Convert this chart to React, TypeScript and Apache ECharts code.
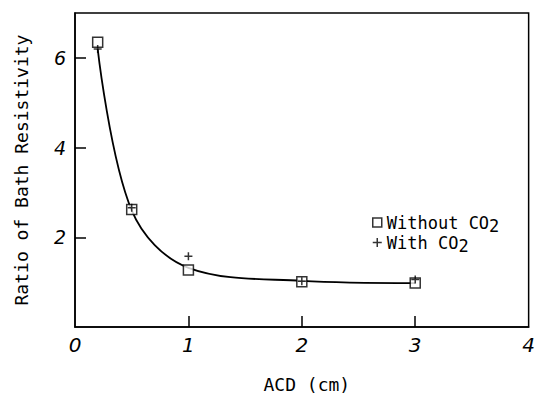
import React, { useEffect, useRef } from "react";
import * as echarts from "echarts";

const acd = [0.2, 0.5, 1.0, 2.0, 3.0];
const withoutCO2 = [6.35, 2.62, 1.27, 1.01, 0.98];
const withCO2 = [6.2, 2.66, 1.58, 1.02, 1.06];
const fitCurve = [6.2, 2.6, 1.32, 1.03, 0.98];
const xTicks = [0, 1, 2, 3, 4];
const yTicks = [2, 4, 6];

const FONT = "DejaVu Sans";
const MONO = "DejaVu Sans Mono";
const plusPath = "path://M5,0L5,10M0,5L10,5";

export default function App() {
  const ref = useRef<HTMLDivElement>(null);
  useEffect(() => {
    if (!ref.current) return;
    const chart = echarts.init(ref.current, undefined, { renderer: "svg" });
    const pairs = (ys: number[]) => acd.map((x, i) => [x, ys[i]]);
    chart.setOption({
      animation: false,
      backgroundColor: "#fff",
      grid: {
        left: 75,
        right: 6,
        top: 13,
        bottom: 68,
        show: true,
        borderColor: "#000",
        borderWidth: 1.5,
        backgroundColor: "transparent",
      },
      xAxis: {
        type: "value",
        min: 0,
        max: 4,
        interval: 1,
        name: "ACD (cm)",
        nameLocation: "middle",
        nameGap: 48,
        nameTextStyle: { fontFamily: MONO, fontSize: 18, color: "#000", padding: [0, 0, 0, 10] },
        axisLine: { lineStyle: { color: "#000", width: 1.5 } },
        axisTick: { inside: true, length: 11, customValues: [1, 2, 3], lineStyle: { color: "#000", width: 1.5 } },
        axisLabel: {
          customValues: xTicks,
          fontFamily: FONT,
          fontStyle: "italic",
          fontSize: 20,
          color: "#000",
          margin: 8,
        },
        splitLine: { show: false },
      },
      yAxis: {
        type: "value",
        min: 0,
        max: 7,
        name: "Ratio of Bath Resistivity",
        nameLocation: "middle",
        nameGap: 45,
        nameTextStyle: { fontFamily: MONO, fontSize: 18, color: "#000" },
        axisLine: { lineStyle: { color: "#000", width: 1.5 } },
        axisTick: { inside: true, length: 11, customValues: yTicks, lineStyle: { color: "#000", width: 1.5 } },
        axisLabel: {
          customValues: yTicks,
          fontFamily: FONT,
          fontStyle: "italic",
          fontSize: 19,
          color: "#000",
          margin: 9,
        },
        splitLine: { show: false },
      },
      legend: {
        orient: "vertical",
        left: 367,
        top: 209,
        itemWidth: 9,
        itemHeight: 9,
        itemGap: 0,
        textStyle: {
          fontFamily: MONO,
          fontSize: 16,
          color: "#000",
          rich: {
            t: { fontFamily: MONO, fontSize: 17, color: "#000" },
            s: { fontFamily: MONO, fontSize: 17, color: "#000", padding: [6, 0, 0, 0] },
          },
        },
        formatter: (name: string) =>
          name === "Without CO2" ? "{t|Without CO}{s|2}" : "{t|With CO}{s|2}",
        data: [
          { name: "Without CO2", icon: "rect", itemStyle: { color: "#fff", borderColor: "#000", borderWidth: 1.5 } },
          { name: "With CO2", icon: plusPath, itemStyle: { color: "transparent", borderColor: "#000", borderWidth: 1.5 } },
        ],
      },
      series: [
        {
          name: "fit",
          type: "line",
          data: pairs(fitCurve),
          smooth: 0.35,
          showSymbol: false,
          symbol: "none",
          lineStyle: { color: "#000", width: 1.8 },
          z: 1,
        },
        {
          name: "Without CO2",
          type: "scatter",
          data: pairs(withoutCO2),
          symbol: "rect",
          symbolSize: 10,
          itemStyle: { color: "#fff", borderColor: "#000", borderWidth: 1.5 },
          z: 2,
        },
        {
          name: "With CO2",
          type: "scatter",
          data: pairs(withCO2),
          symbol: plusPath,
          symbolSize: 8,
          itemStyle: { color: "transparent", borderColor: "#000", borderWidth: 1.5 },
          z: 3,
        },
      ],
    });
    return () => chart.dispose();
  }, []);
  return <div ref={ref} style={{ width: 538, height: 398, position: "absolute", left: 0, top: 0 }} />;
}
